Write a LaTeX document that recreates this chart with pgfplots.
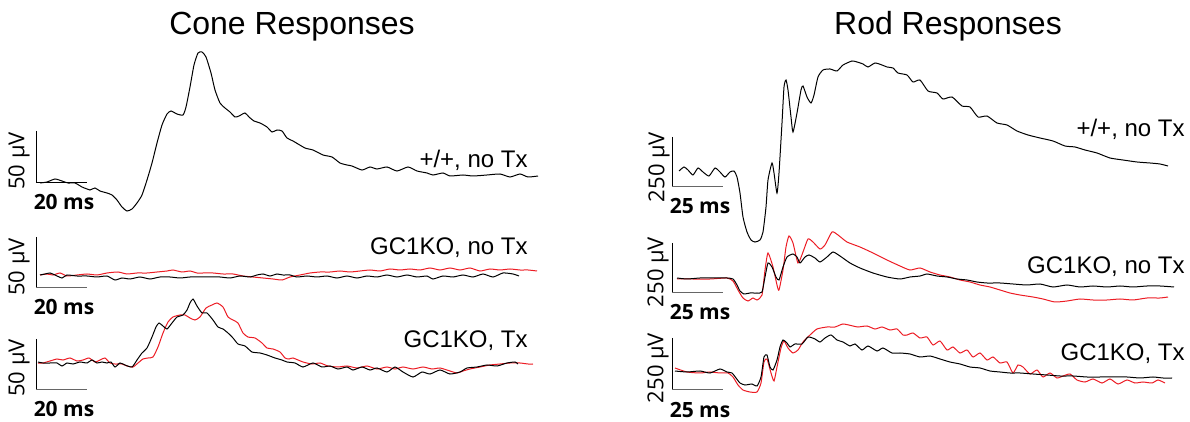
\documentclass[border=0pt]{standalone}
\usepackage{fontspec}
\setmainfont{Liberation Sans}
\newfontfamily\scfont{Open Sans}
\usepackage{pgfplots}
\pgfplotsset{compat=1.18}
\definecolor{trred}{RGB}{236,28,36}
\tikzset{msl/.style={font=\scfont\bfseries\fontsize{10.5}{12}\selectfont, inner sep=0pt},
         uvl/.style={rotate=90, font=\scfont\fontsize{11}{13}\selectfont, inner sep=0pt},
         lab/.style={anchor=base east, font=\fontsize{12}{14}\selectfont, inner sep=0pt}}
\pgfplotsset{tr/.style={line width=0.5pt, smooth, tension=0.35}}
\begin{document}
\begin{tikzpicture}
\begin{axis}[name=ax, width=595pt, height=211pt, scale only axis,
  xmin=0, xmax=1190, ymin=0, ymax=422, y dir=reverse, hide axis, clip=false]
% ---------------- Cone panel ----------------
\addplot[black, tr] coordinates {
(40,183)(47,182)(55,179)(62,181)(68,183)(75,183)(82,187)(87,189)(90,190)(95,188)(100,191)(107,193)(112,195)(117,200)(122,207)(127,211)(132,209)(137,203)(142,195)(147,180)(152,163)(157,143)(162,125)(167,114)(171,111)(177,114)(183,115)(186,107)(190,87)(194,65)(198,53)(202,52)(206,57)(211,73)(215,90)(220,103)(225,108)(230,112)(235,117)(239,116)(245,113)(249,117)(254,121)(260,123)(267,127)(272,132)(277,130)(282,131)(287,138)(293,141)(305,148)(313,150)(323,155)(332,157)(340,163)(347,165)(352,166)(362,170)(370,167)(377,169)(387,167)(397,171)(408,167)(417,171)(427,173)(433,175)(443,173)(450,176)(463,175)(473,176)(487,175)(500,174)(510,177)(520,174)(528,177)(538,176)};
\addplot[trred, tr] coordinates {
(40,275)(47,274)(53,275)(60,273)(67,276)(77,275)(87,274)(97,275)(107,273)(118,272)(127,274)(137,273)(147,273)(157,272)(167,271)(173,270)(182,272)(190,271)(197,273)(203,273)(213,273)(223,274)(233,274)(243,276)(253,277)(263,278)(273,279)(282,280)(290,277)(300,275)(310,273)(320,272)(330,272)(340,271)(350,272)(360,271)(370,270)(380,271)(390,269)(400,270)(410,269)(420,270)(430,268)(440,270)(450,268)(460,270)(470,268)(480,271)(490,269)(500,270)(510,269)(520,270)(528,270)(537,271)};
\addplot[black, tr] coordinates {
(40,275)(45,274)(50,273)(55,275)(62,278)(67,275)(77,276)(87,276)(97,277)(107,276)(115,280)(122,278)(130,279)(140,277)(150,279)(160,277)(170,277)(180,278)(190,277)(200,277)(210,277)(220,277)(230,278)(240,276)(250,277)(257,275)(263,274)(270,276)(277,274)(283,275)(290,275)(297,277)(307,276)(317,277)(327,276)(337,278)(347,276)(357,278)(367,276)(377,277)(387,275)(397,277)(407,275)(417,277)(427,276)(433,279)(443,276)(453,277)(463,275)(473,277)(483,274)(493,277)(503,273)(513,274)(519,276)};
\addplot[trred, tr] coordinates {
(38,363)(43,363)(50,361)(57,359)(63,360)(70,358)(77,361)(83,360)(89,358)(95,362)(100,360)(105,358)(110,363)(115,364)(122,364)(127,366)(133,367)(138,363)(143,359)(148,358)(153,357)(158,347)(163,333)(168,322)(173,317)(180,315)(185,315)(190,318)(195,320)(200,317)(206,308)(212,305)(217,303)(223,307)(228,317)(233,320)(238,323)(243,333)(248,337)(255,338)(262,343)(267,348)(273,349)(280,352)(285,358)(289,359)(293,358)(303,362)(312,364)(320,363)(328,366)(338,367)(347,366)(357,368)(367,366)(377,369)(387,367)(395,369)(403,367)(413,369)(423,367)(432,369)(440,368)(450,371)(457,373)(463,371)(470,369)(480,367)(490,365)(500,364)(510,363)(520,363)(528,364)(533,364)};
\addplot[black, tr] coordinates {
(38,362)(43,363)(50,363)(57,363)(62,366)(67,363)(73,364)(80,362)(87,363)(92,360)(97,363)(102,362)(107,363)(111,362)(115,367)(120,363)(125,365)(132,367)(137,360)(142,353)(147,348)(152,337)(156,327)(159,323)(163,326)(167,329)(172,323)(177,317)(183,315)(187,310)(190,303)(193,299)(197,306)(202,313)(207,313)(213,320)(218,327)(223,329)(228,333)(233,338)(238,344)(245,346)(252,352)(260,353)(267,355)(275,358)(282,360)(287,362)(295,363)(303,367)(313,363)(322,367)(330,366)(338,369)(347,367)(353,370)(362,367)(370,370)(377,368)(387,372)(395,367)(403,372)(413,377)(422,372)(430,374)(440,370)(450,374)(460,372)(467,368)(477,367)(487,365)(497,366)(507,363)(515,362)(518,364)};
% cone scale bars
\addplot[black, line width=0.5pt] coordinates {(36,131)(36,183)};
\addplot[black, line width=0.5pt] coordinates {(36,183)(87,183)};
\addplot[black, line width=0.5pt] coordinates {(36,237)(36,288)};
\addplot[black!60, line width=0.5pt] coordinates {(36,288)(87,288)};
\addplot[black, line width=0.5pt] coordinates {(36,339)(36,390)};
\addplot[black!60, line width=0.5pt] coordinates {(36,390)(87,390)};
% ---------------- Rod panel ----------------
\addplot[black, tr] coordinates {
(679,171)(684,167)(688,170)(693,175)(698,168)(703,172)(709,176)(715,168)(720,172)(725,177)(730,172)(734,171)(737,177)(740,193)(743,217)(747,232)(751,240)(755,242)(760,240)(763,232)(766,207)(768,180)(772,163)(774,173)(777,193)(779,173)(782,123)(784,87)(786,80)(788,90)(791,117)(793,132)(797,113)(801,90)(803,86)(807,97)(811,103)(814,95)(818,77)(823,70)(830,69)(837,71)(843,65)(852,61)(857,62)(863,64)(868,67)(875,63)(882,65)(887,67)(893,68)(898,73)(907,75)(913,82)(920,80)(928,91)(937,93)(943,99)(952,97)(962,106)(970,107)(978,117)(987,116)(997,123)(1007,125)(1017,131)(1028,135)(1040,138)(1053,141)(1065,146)(1075,147)(1085,150)(1097,153)(1110,158)(1123,160)(1137,162)(1150,163)(1160,164)(1168,166)};
\addplot[trred, tr] coordinates {
(677,279)(693,279)(710,279)(727,278)(733,281)(738,290)(743,298)(748,301)(753,298)(757,300)(762,295)(765,270)(768,253)(773,267)(777,285)(779,290)(783,270)(786,247)(789,236)(793,243)(798,263)(803,252)(808,239)(813,242)(820,249)(825,245)(832,232)(838,235)(847,242)(860,247)(873,253)(887,260)(900,266)(910,270)(920,268)(930,272)(940,275)(950,277)(960,280)(970,282)(980,285)(990,287)(1000,290)(1010,293)(1020,295)(1033,297)(1043,299)(1055,302)(1067,301)(1080,299)(1093,300)(1107,300)(1120,299)(1133,300)(1147,298)(1160,298)(1168,297)};
\addplot[black, tr] coordinates {
(677,278)(687,279)(700,278)(713,278)(727,278)(733,279)(737,285)(740,291)(744,294)(750,293)(757,293)(762,292)(765,277)(768,263)(772,267)(776,277)(779,280)(783,267)(787,257)(793,254)(797,257)(800,263)(805,257)(809,255)(815,258)(820,262)(827,257)(833,252)(840,256)(850,263)(860,268)(873,273)(887,277)(900,279)(910,277)(920,276)(927,274)(937,276)(947,277)(957,279)(967,280)(977,282)(987,283)(1000,283)(1013,284)(1027,285)(1040,284)(1053,287)(1067,285)(1080,287)(1093,286)(1107,287)(1120,286)(1133,287)(1147,286)(1160,286)(1174,287)};
\addplot[trred, tr] coordinates {
(675,368)(687,372)(700,373)(710,372)(720,373)(728,373)(733,377)(738,385)(743,390)(750,392)(757,392)(761,383)(764,362)(767,359)(771,373)(774,381)(777,367)(781,348)(784,341)(788,348)(793,353)(798,350)(803,342)(810,335)(817,329)(827,327)(835,327)(843,324)(853,326)(858,327)(867,326)(875,329)(882,327)(890,330)(897,329)(903,335)(907,335)(913,333)(920,338)(927,337)(933,345)(940,341)(947,350)(953,347)(960,353)(967,350)(973,357)(980,353)(987,360)(993,357)(1000,363)(1007,362)(1013,373)(1018,365)(1023,367)(1030,374)(1037,370)(1043,377)(1050,373)(1057,378)(1063,376)(1070,374)(1077,380)(1085,382)(1093,379)(1102,383)(1110,379)(1118,384)(1127,380)(1135,383)(1143,382)(1152,383)(1158,380)(1165,383)};
\addplot[black, tr] coordinates {
(675,371)(687,372)(700,371)(710,373)(720,369)(727,372)(732,373)(736,378)(740,383)(745,385)(752,384)(757,386)(761,377)(764,357)(767,355)(770,367)(773,370)(777,360)(780,347)(783,340)(787,343)(790,347)(795,344)(802,344)(808,337)(815,339)(820,342)(825,338)(831,335)(837,340)(843,342)(850,346)(855,344)(862,350)(868,346)(877,351)(883,348)(892,353)(900,353)(910,354)(920,357)(930,356)(940,359)(950,362)(960,364)(970,367)(980,368)(990,371)(1000,372)(1010,373)(1020,373)(1033,374)(1047,375)(1060,376)(1073,376)(1087,377)(1100,377)(1113,377)(1127,377)(1140,378)(1153,377)(1163,378)(1172,378)};
% rod scale bars
\addplot[black, line width=0.5pt] coordinates {(672,137)(672,187)};
\addplot[black!60, line width=0.5pt] coordinates {(672,187)(723,187)};
\addplot[black, line width=0.5pt] coordinates {(672,243)(672,293)};
\addplot[black!60, line width=0.5pt] coordinates {(672,293)(723,293)};
\addplot[black, line width=0.5pt] coordinates {(672,338)(672,390)};
\addplot[black!60, line width=0.5pt] coordinates {(672,390)(723,390)};
% ---------------- Text ----------------
\node[anchor=base, font=\fontsize{16}{19}\selectfont, inner sep=0pt] at (axis cs:292,35) {Cone Responses};
\node[anchor=base, font=\fontsize{16}{19}\selectfont, inner sep=0pt] at (axis cs:948,35) {Rod Responses};
\node[lab] at (axis cs:528,168) {+/+, no Tx};
\node[lab] at (axis cs:528,255) {GC1KO, no Tx};
\node[lab] at (axis cs:528,348) {GC1KO, Tx};
\node[lab] at (axis cs:1185,137) {+/+, no Tx};
\node[lab] at (axis cs:1185,274) {GC1KO, no Tx};
\node[lab] at (axis cs:1185,361) {GC1KO, Tx};
% scale labels
\node[msl] at (axis cs:64,202) {20 ms};
\node[msl] at (axis cs:64,307) {20 ms};
\node[msl] at (axis cs:64,409) {20 ms};
\node[msl] at (axis cs:700,206) {25 ms};
\node[msl] at (axis cs:700,312) {25 ms};
\node[msl] at (axis cs:700,410) {25 ms};
\node[uvl] at (axis cs:19,161) {50 µV};
\node[uvl] at (axis cs:19,267) {50 µV};
\node[uvl] at (axis cs:19,368) {50 µV};
\node[uvl] at (axis cs:659,167) {250 µV};
\node[uvl] at (axis cs:658,272) {250 µV};
\node[uvl] at (axis cs:658,368) {250 µV};
\end{axis}
\pgfresetboundingbox
\path (ax.south west) rectangle (ax.north east);
\end{tikzpicture}
\end{document}
